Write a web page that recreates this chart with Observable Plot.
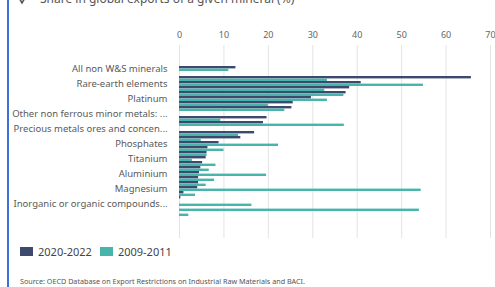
<!DOCTYPE html>
<html>
<head>
<meta charset="utf-8">
<script src="https://cdn.jsdelivr.net/npm/d3@7"></script>
<script src="https://cdn.jsdelivr.net/npm/@observablehq/plot@0.6"></script>
<style>
  html, body { margin: 0; padding: 0; background: #fff; }
  body { width: 495px; height: 287px; position: relative; overflow: hidden; font-family: "Noto Sans", sans-serif; }
  #bar { position: absolute; left: 7px; top: 0; width: 2px; height: 287px; background: #3d6fd6; }
  #title { position: absolute; left: 40px; top: -10px; font-size: 12px; color: #555; white-space: nowrap; }
  #icon { position: absolute; left: 17px; top: -6px; }
  #chart { position: absolute; left: 0; top: 0; }
  #legend { position: absolute; left: 20px; top: 244px; font-size: 11px; color: #444; display: flex; align-items: center; }
  .sw { display: inline-block; width: 13px; height: 9px; margin-right: 5px; }
  .item { display: flex; align-items: center; margin-right: 8px; }
  #source { position: absolute; left: 20px; top: 276px; font-size: 7.2px; color: #555; white-space: nowrap; }
</style>
</head>
<body>
<div id="bar"></div>
<svg id="icon" width="10" height="12"><path d="M1,2 L5,9 L9,2" fill="none" stroke="#555" stroke-width="1.6"/></svg>
<div id="title">Share in global exports of a given mineral (%)</div>
<div id="chart"></div>
<div id="legend"></div>
<div id="source">Source: OECD Database on Export Restrictions on Industrial Raw Materials and BACI.</div>
<script>
// Category tick labels (only every third category is labelled in the reference)
const labels = [
  "All non W&S minerals", "", "",
  "Rare-earth elements", "", "",
  "Platinum", "", "",
  "Other non ferrous minor metals: ...", "", "",
  "Precious metals ores and concen...", "", "",
  "Phosphates", "", "",
  "Titanium", "", "",
  "Aluminium", "", "",
  "Magnesium", "", "",
  "Inorganic or organic compounds...", "", ""
];
const series = ["2020-2022", "2009-2011"];
const colors = ["#3e4a6d", "#47b5ab"];
const v2020 = [12.7, null, 65.7, 40.9, 38.3, 37.5, 29.7, 25.6, 25.3, null,
               19.7, 18.9, null, 16.9, 13.8, 8.9, 6.4, 6.2, 6.0, 5.2,
               4.8, 4.5, 4.3, 4.3, 4.1, 1.0, 0.3, null, null, null];
const v2009 = [11.1, null, 33.3, 54.9, 32.7, 37.0, 33.3, 20.0, 23.7, null,
               9.3, 37.1, null, 13.3, 4.9, 22.3, 10.0, 6.2, 2.9, 8.2,
               6.7, 19.6, 7.9, 6.0, 54.4, 3.6, null, 16.3, 54.0, 2.1];
const xTicks = [0, 10, 20, 30, 40, 50, 60, 70];

const idx = labels.map((_, i) => i);
const rowsA = idx.filter(i => v2020[i] != null).map(i => ({i, v: v2020[i]}));
const rowsB = idx.filter(i => v2009[i] != null).map(i => ({i, v: v2009[i]}));

const chart = Plot.plot({
  width: 495,
  height: 240,
  marginLeft: 179,
  marginRight: 5,
  marginTop: 45,
  marginBottom: 2,
  style: { fontFamily: "Noto Sans, sans-serif", background: "transparent", color: "#555" },
  x: { domain: [0, 70] },
  y: { type: "band", domain: idx, paddingInner: 0.1, paddingOuter: 0.05, insetTop: 12, insetBottom: 14.4 },
  marks: [
    Plot.gridX({ ticks: xTicks, stroke: "#e3e3e3", strokeOpacity: 1 }),
    Plot.axisX({ anchor: "top", ticks: xTicks, tickSize: 0, tickPadding: 8, fontSize: 9, fill: "#666", label: null }),
    Plot.axisY({ tickSize: 0, tickPadding: 12, fontSize: 9.5, fill: "#5a5a5a", label: null, tickFormat: i => labels[i] }),
    Plot.barX(rowsA, { x: "v", y: "i", fill: colors[0], insetBottom: 2.6 }),
    Plot.barX(rowsB, { x: "v", y: "i", fill: colors[1], insetTop: 2.6 })
  ]
});
document.getElementById("chart").appendChild(chart);

const legend = document.getElementById("legend");
series.forEach((s, k) => {
  const item = document.createElement("span");
  item.className = "item";
  item.innerHTML = `<span class="sw" style="background:${colors[k]}"></span>${s}`;
  legend.appendChild(item);
});
</script>
</body>
</html>
